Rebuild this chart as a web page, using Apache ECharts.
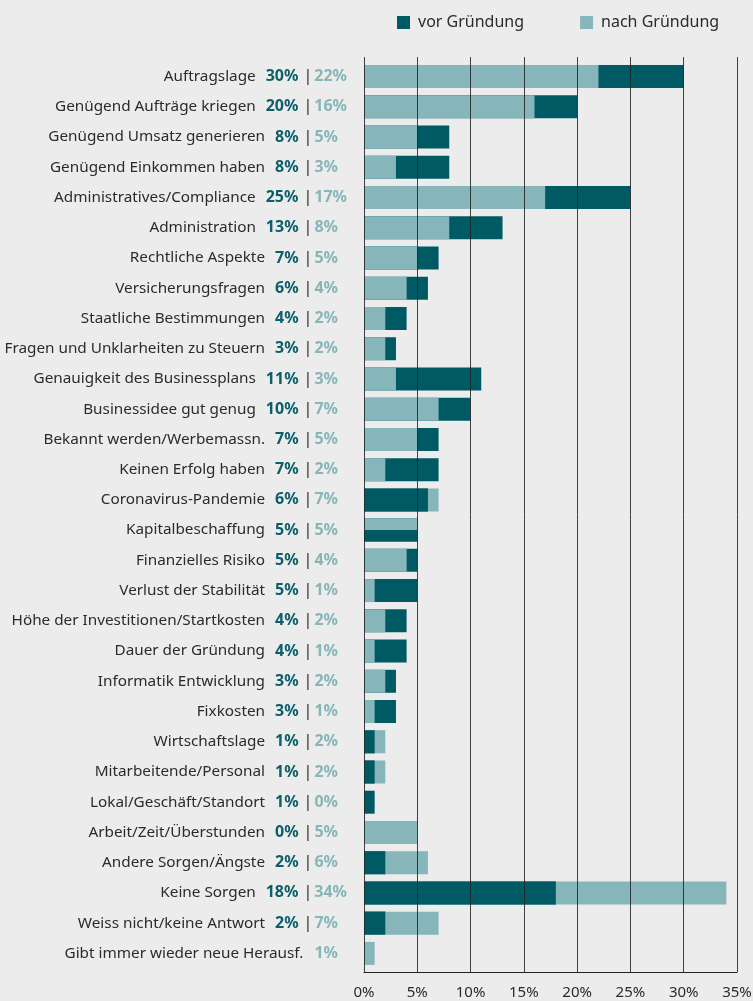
<!DOCTYPE html>
<html>
<head>
<meta charset="utf-8">
<script src="https://cdn.jsdelivr.net/npm/echarts@6/dist/echarts.min.js"></script>
<style>
html,body{margin:0;padding:0;background:#ececec;}
#chart{width:753px;height:1001px;}
</style>
</head>
<body>
<div id="chart"></div>
<script>
var categories = [
  'Auftragslage','Genügend Aufträge kriegen','Genügend Umsatz generieren','Genügend Einkommen haben',
  'Administratives/Compliance','Administration','Rechtliche Aspekte','Versicherungsfragen',
  'Staatliche Bestimmungen','Fragen und Unklarheiten zu Steuern','Genauigkeit des Businessplans',
  'Businessidee gut genug','Bekannt werden/Werbemassn.','Keinen Erfolg haben','Coronavirus-Pandemie',
  'Kapitalbeschaffung','Finanzielles Risiko','Verlust der Stabilität','Höhe der Investitionen/Startkosten',
  'Dauer der Gründung','Informatik Entwicklung','Fixkosten','Wirtschaftslage','Mitarbeitende/Personal',
  'Lokal/Geschäft/Standort','Arbeit/Zeit/Überstunden','Andere Sorgen/Ängste','Keine Sorgen',
  'Weiss nicht/keine Antwort','Gibt immer wieder neue Herausf.'
];
var vorGruendung = [30,20,8,8,25,13,7,6,4,3,11,10,7,7,6,5,5,5,4,4,3,3,1,1,1,0,2,18,2,null];
var nachGruendung = [22,16,5,3,17,8,5,4,2,2,3,7,5,2,7,5,4,1,2,1,2,1,2,2,0,5,6,34,7,1];
var xTicks = [0,5,10,15,20,25,30,35];

var DARK = '#005a64';
var LIGHT = '#86b5ba';
var FONT = '"Noto Sans", sans-serif';

var measureCtx = document.createElement('canvas').getContext('2d');
function textWidth(t, font){ measureCtx.font = font; return measureCtx.measureText(t).width; }

var backDark = vorGruendung.map(function(v){ return v == null ? '-' : v; });
var midLight = nachGruendung.map(function(v, i){
  var d = vorGruendung[i];
  if (d != null && d === v) {
    return { value: v, itemStyle: { color: new echarts.graphic.LinearGradient(0,0,0,1,[
      {offset:0,color:LIGHT},{offset:0.5,color:LIGHT},{offset:0.5,color:DARK},{offset:1,color:DARK}]) } };
  }
  return v == null ? '-' : v;
});
var frontDark = vorGruendung.map(function(v, i){
  return (v != null && v < nachGruendung[i]) ? v : '-';
});

var chart = echarts.init(document.getElementById('chart'));
chart.setOption({
  backgroundColor: '#ececec',
  animation: false,
  textStyle: { fontFamily: FONT },
  legend: {
    data: ['vor Gründung','nach Gründung'],
    left: 392, top: 9.5,
    itemWidth: 13, itemHeight: 13, itemGap: 56,
    icon: 'rect',
    textStyle: { fontSize: 16, color: '#2b2b2b', fontFamily: FONT, padding: [0,0,0,3] }
  },
  grid: [
    { left: 364, right: 16, top: 57, bottom: 29, outerBoundsMode: 'none', containLabel: false },
    { left: 364, right: 16, top: 61.5, bottom: 32.5, outerBoundsMode: 'none', containLabel: false }
  ],
  xAxis: [
    { gridIndex: 0, type: 'value', min: 0, max: 35, interval: 5, z: 5,
      axisLine: { show: true, lineStyle: { color: '#222', width: 1 } },
      axisTick: { show: false },
      splitLine: { show: true, lineStyle: { color: '#222', width: 1, opacity: 0.85 } },
      axisLabel: { margin: 13, fontSize: 15, color: '#2b2b2b', fontFamily: FONT,
        formatter: function(v){ return xTicks.indexOf(v) >= 0 ? v + '%' : ''; } }
    },
    { gridIndex: 1, type: 'value', min: 0, max: 35, show: false }
  ],
  yAxis: [
    { gridIndex: 0, type: 'value', min: 0, max: 1, show: false },
    { gridIndex: 1, type: 'category', data: categories, inverse: true,
      axisLine: { show: false }, axisTick: { show: false },
      axisLabel: {
        margin: 16, fontSize: 15.3, color: '#2b2b2b', fontFamily: FONT,
        formatter: function(name, i){
          var d = vorGruendung[i], n = nachGruendung[i];
          var s = '{n|' + name + '}';
          if (d != null) s += '{a|' + d + '%}{s||}';
          else s += '{g|}';
          var lt = n + '%';
          var pad = Math.max(0, Math.round(34 - textWidth(lt, 'bold 16px "Noto Sans"')));
          s += '{b|' + lt + '}';
          if (pad > 0) s += '{p' + pad + '|}';
          return s;
        },
        rich: (function(){
          var r = {
            n: { fontSize: 15.3, color: '#2b2b2b', fontFamily: FONT },
            a: { fontSize: 16, fontWeight: 'bold', color: '#0b5f69', fontFamily: FONT, padding: [0,0,0,10] },
            s: { fontSize: 16, color: '#2b2b2b', fontFamily: FONT, padding: [0,2,0,5] },
            g: { width: 11 },
            b: { fontSize: 16, fontWeight: 'bold', color: '#86b5ba', fontFamily: FONT }
          };
          for (var k = 1; k <= 34; k++) r['p' + k] = { width: k };
          return r;
        })()
      }
    }
  ],
  series: [
    { name: 'vor Gründung', type: 'bar', xAxisIndex: 1, yAxisIndex: 1, data: backDark,
      barWidth: 23, barGap: '-100%', itemStyle: { color: DARK } },
    { name: 'nach Gründung', type: 'bar', xAxisIndex: 1, yAxisIndex: 1, data: midLight,
      barWidth: 23, barGap: '-100%', itemStyle: { color: LIGHT } },
    { name: 'vor Gründung', type: 'bar', xAxisIndex: 1, yAxisIndex: 1, data: frontDark,
      barWidth: 23, barGap: '-100%', itemStyle: { color: DARK } }
  ]
});
</script>
</body>
</html>
